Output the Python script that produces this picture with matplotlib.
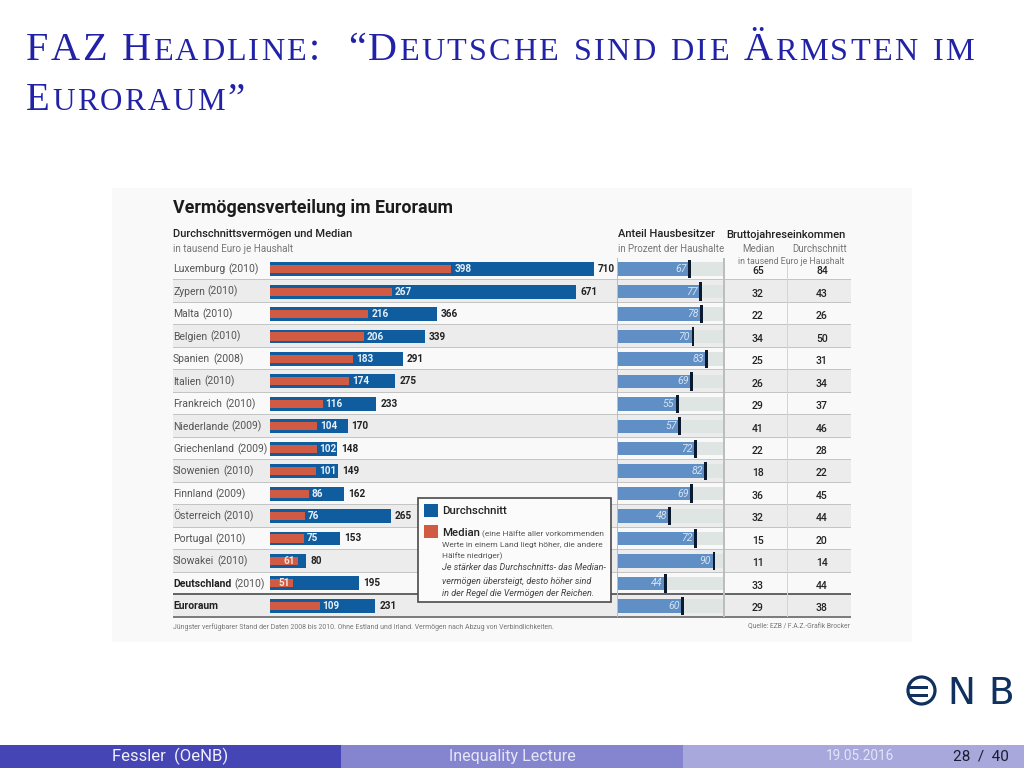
import matplotlib
matplotlib.use('Agg')
import matplotlib.pyplot as plt
from matplotlib.patches import Rectangle, Circle

# --- Data ---
LAENDER = ['Luxemburg', 'Zypern', 'Malta', 'Belgien', 'Spanien', 'Italien', 'Frankreich', 'Niederlande',
           'Griechenland', 'Slowenien', 'Finnland', 'Österreich', 'Portugal', 'Slowakei', 'Deutschland', 'Euroraum']
JAHRE = ['2010', '2010', '2010', '2010', '2008', '2010', '2010', '2009',
         '2009', '2010', '2009', '2010', '2010', '2010', '2010', '']
DURCHSCHNITT = [710, 671, 366, 339, 291, 275, 233, 170, 148, 149, 162, 265, 153, 80, 195, 231]
MEDIAN = [398, 267, 216, 206, 183, 174, 116, 104, 102, 101, 86, 76, 75, 61, 51, 109]
HAUSBESITZER = [67, 77, 78, 70, 83, 69, 55, 57, 72, 82, 69, 48, 72, 90, 44, 60]
EINKOMMEN_MEDIAN = [65, 32, 22, 34, 25, 26, 29, 41, 22, 18, 36, 32, 15, 11, 33, 29]
EINKOMMEN_MITTEL = [84, 43, 26, 50, 31, 34, 37, 46, 28, 22, 45, 44, 20, 14, 44, 38]

# --- Colours ---
BLUE = '#0f5c9e'
RED = '#d05a42'
LIGHT_BLUE = '#5f8fc4'
TITLE_BLUE = '#2222a8'
TEXT_DARK = '#222222'
TEXT_GREY = '#777777'

W, H = 1024, 768
ROW_TOP = 258.0
ROW_H = 22.47
N = len(LAENDER)
FONT = 'Roboto'

fig = plt.figure(figsize=(W / 100, H / 100), dpi=100)

# Overlay in pixel coordinates for the slide furniture
deko = fig.add_axes([0, 0, 1, 1])
deko.set_xlim(0, W)
deko.set_ylim(H, 0)
deko.axis('off')


def rect(x0, y0, x1, y1, color, z=1, **kw):
    deko.add_patch(Rectangle((x0, y0), x1 - x0, y1 - y0, facecolor=color, edgecolor='none', zorder=z, **kw))


def label(x, y, s, size=7.5, color=TEXT_DARK, ha='left', weight='normal', style='normal', z=6):
    return deko.text(x, y, s, fontsize=size, color=color, ha=ha, va='center', weight=weight,
                     style=style, family=FONT, zorder=z)


def small_caps(x, y, s, size, tracking=2.25, word_gap=13):
    """Beamer style small caps, drawn letter by letter so the spacing can be opened up."""
    renderer = fig.canvas.get_renderer()
    for ch in s:
        if ch == ' ':
            x += word_gap
            continue
        fs = size * 0.8 if ch.islower() else size
        t = deko.text(x, y, ch.upper(), fontsize=fs, color=TITLE_BLUE, family='Liberation Serif',
                      ha='left', va='baseline', zorder=6)
        x += t.get_window_extent(renderer).width + tracking


# Slide title
small_caps(26, 60, 'FAZ Headline:  “Deutsche sind die Ärmsten im', 29)
small_caps(26, 110, 'Euroraum”', 28)

# Grey backing of the pasted graphic
rect(112, 188, 912, 642, '#f9f9f9', z=0)

label(173, 208, 'Vermögensverteilung im Euroraum', size=12.8, weight='bold', color='#1c1c1c')
label(173, 234, 'Durchschnittsvermögen und Median', size=8, weight='medium')
label(173, 249, 'in tausend Euro je Haushalt', size=7.1, color=TEXT_GREY)
label(618, 234, 'Anteil Hausbesitzer', size=8, weight='medium')
label(618, 249, 'in Prozent der Haushalte', size=7, color=TEXT_GREY)
label(726, 235, 'Bruttojahreseinkommen', size=8, weight='medium')
label(758, 249, 'Median', size=7, color=TEXT_GREY, ha='center')
label(820, 249, 'Durchschnitt', size=7, color=TEXT_GREY, ha='center')
label(791, 262, 'in tausend Euro je Haushalt', size=6.3, color=TEXT_GREY, ha='center')

# Table rows
for i in range(N):
    top = ROW_TOP + i * ROW_H
    if i % 2 == 1:
        rect(173, top, 851, top + ROW_H, '#ececec')
    rect(173, top + ROW_H - 1, 851, top + ROW_H, '#c4c4c4', z=2)
    yc = top + ROW_H / 2
    is_bold = LAENDER[i] in ('Deutschland', 'Euroraum')
    t = label(173, yc, LAENDER[i], weight='bold' if is_bold else 'normal',
              color=TEXT_DARK if is_bold else '#555555')
    if JAHRE[i]:
        box = t.get_window_extent(fig.canvas.get_renderer())
        label(173 + box.width + 3, yc, f'({JAHRE[i]})', color='#555555')
    label(758, yc + 2, str(EINKOMMEN_MEDIAN[i]), size=7.5, weight='medium', ha='center')
    label(822, yc + 2, str(EINKOMMEN_MITTEL[i]), size=7.5, weight='medium', ha='center')

rect(173, 593, 851, 595, '#666666', z=3)
rect(173, 616, 851, 618, '#7d7d7d', z=3)
rect(723, 258, 724.5, 617, '#bdbdbd', z=3)
rect(786.5, 258, 788, 617, '#d4d4d4', z=3)
rect(617, 258, 618, 617, '#bdbdbd', z=3)

# Wealth bars: 0.456 px per thousand euro, zero at x=270
ax = fig.add_axes([270 / W, 1 - 617 / H, 345 / W, (617 - ROW_TOP) / H])
ax.patch.set_alpha(0)
ax.axis('off')
ax.set_xlim(0, 345 / 0.456)
ax.set_ylim(N - 0.5, -0.5)
rows = list(range(N))
ax.barh(rows, DURCHSCHNITT, height=0.62, color=BLUE, zorder=3)
ax.barh(rows, MEDIAN, height=0.36, color=RED, zorder=4)
for i in rows:
    ax.annotate(str(DURCHSCHNITT[i]), (DURCHSCHNITT[i], i), xytext=(3, 0), textcoords='offset points',
                va='center', ha='left', fontsize=7.2, weight='bold', color=TEXT_DARK, family=FONT)
    if LAENDER[i] in ('Slowakei', 'Deutschland'):
        ax.annotate(str(MEDIAN[i]), (MEDIAN[i], i), xytext=(-2, 0), textcoords='offset points',
                    va='center', ha='right', fontsize=7.2, weight='bold', color='#f7e5dc', family=FONT, zorder=6)
    else:
        ax.annotate(str(MEDIAN[i]), (MEDIAN[i], i), xytext=(2, 0), textcoords='offset points',
                    va='center', ha='left', fontsize=7.2, weight='bold', color='#e8f0f8', family=FONT, zorder=6)

# Home owner bars: 100 percent spans x=618 to x=723
ax2 = fig.add_axes([618 / W, 1 - 617 / H, 105 / W, (617 - ROW_TOP) / H])
ax2.patch.set_alpha(0)
ax2.axis('off')
ax2.set_xlim(0, 100)
ax2.set_ylim(N - 0.5, -0.5)
ax2.barh(rows, [100] * N, height=0.6, color='#dfe5e3', zorder=2)
ax2.barh(rows, HAUSBESITZER, height=0.6, color=LIGHT_BLUE, zorder=3)
ax2.barh(rows, [2.8] * N, left=HAUSBESITZER, height=0.82, color='#0b1a2e', zorder=4)
for i in rows:
    ax2.annotate(str(HAUSBESITZER[i]), (HAUSBESITZER[i], i), xytext=(-1, 0), textcoords='offset points',
                 va='center', ha='right', fontsize=7.6, style='italic', color='#d6e4f2', family=FONT, zorder=6)

# Legend box
deko.add_patch(Rectangle((418, 498), 193, 104, facecolor='#fbfbfb', edgecolor='#4a4a4a', lw=1.2, zorder=8))
rect(424, 504, 438, 517, BLUE, z=9)
rect(424, 525, 438, 538, RED, z=9)
label(442, 511, 'Durchschnitt', size=8.2, weight='medium', z=9)
label(442, 533, 'Median', size=8.2, weight='medium', z=9)
label(482, 534, '(eine Hälfte aller vorkommenden', size=6, color='#555555', z=9)
label(442, 545, 'Werte in einem Land liegt höher, die andere', size=6, color='#555555', z=9)
label(442, 556, 'Hälfte niedriger)', size=6, color='#555555', z=9)
label(442, 568, 'Je stärker das Durchschnitts- das Median-', size=6.5, color='#444444', style='italic', z=9)
label(442, 581, 'vermögen übersteigt, desto höher sind', size=6.5, color='#444444', style='italic', z=9)
label(442, 594, 'in der Regel die Vermögen der Reichen.', size=6.5, color='#444444', style='italic', z=9)

# Footnotes
label(173, 627, 'Jüngster verfügbarer Stand der Daten 2008 bis 2010. Ohne Estland und Irland. '
      'Vermögen nach Abzug von Verbindlichkeiten.', size=4.95, color='#777777')
label(850, 627, 'Quelle: EZB / F.A.Z.-Grafik Brocker', size=4.9, color='#777777', ha='right')

# OeNB logo
NAVY = '#10305f'
deko.add_patch(Circle((921.5, 690.5), 13.5, facecolor='none', edgecolor=NAVY, lw=2.3, zorder=6))
rect(908, 686, 928, 688.5, NAVY, z=6)
rect(908, 694, 928, 696.5, NAVY, z=6)
deko.text(961, 704, 'N', fontsize=27, color=NAVY, family='DejaVu Sans', ha='center', va='baseline', zorder=6)
deko.text(1001, 704, 'B', fontsize=27, color=NAVY, family='DejaVu Sans', ha='center', va='baseline', zorder=6)

# Footer bar
rect(0, 745, 341.3, 768, '#4545b5')
rect(341.3, 745, 682.6, 768, '#8585cf')
rect(682.6, 745, W, 768, '#a8a8dc')
label(170, 756.5, 'Fessler  (OeNB)', size=12, color='#f0f0fa', ha='center')
label(512, 756.5, 'Inequality Lecture', size=11.5, color='#e6e6f6', ha='center')
label(860, 756.5, '19.05.2016', size=9.8, color='#e4e4f6', ha='center')
label(981, 756.5, '28  /  40', size=11, color='#1c1c30', ha='center')

fig.savefig('out.png', dpi=100)
